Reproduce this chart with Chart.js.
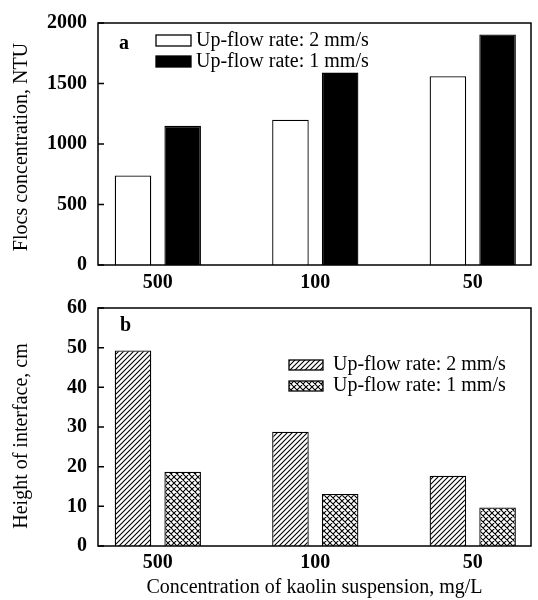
<!DOCTYPE html>
<html>
<head>
<meta charset="utf-8">
<script src="https://cdn.jsdelivr.net/npm/chart.js@4.4.1/dist/chart.umd.min.js"></script>
<style>
    html, body { margin: 0; padding: 0; background: #fff; }
    #wrap { position: relative; width: 538px; height: 600px; overflow: hidden; }
    canvas { position: absolute; left: 0; }
    #chart-a { top: 0; }
    #chart-b { top: 285px; }
</style>
</head>
<body>
<div id="wrap">
    <canvas id="chart-a" width="538" height="300"></canvas>
    <canvas id="chart-b" width="538" height="315"></canvas>
</div>
<script>
// kaolin concentration, mg/L
const categories = ['500', '100', '50'];
const seriesLabels = ['Up-flow rate: 2 mm/s', 'Up-flow rate: 1 mm/s'];

// panel a: flocs concentration, NTU
const flocsFast = [740, 1200, 1560];
const flocsSlow = [1150, 1590, 1905];
const flocsTicks = [0, 500, 1000, 1500, 2000];

// panel b: height of interface, cm
const heightFast = [49.3, 28.8, 17.7];
const heightSlow = [18.7, 13.1, 9.7];
const heightTicks = [0, 10, 20, 30, 40, 50, 60];

const SERIF = '"Liberation Serif", "Times New Roman", serif';
Chart.defaults.font.family = SERIF;
Chart.defaults.color = '#000';

function hatch(cross, size) {
    const c = document.createElement('canvas');
    c.width = size;
    c.height = size;
    const g = c.getContext('2d');
    g.fillStyle = '#fff';
    g.fillRect(0, 0, size, size);
    g.strokeStyle = '#000';
    g.lineWidth = 1.1;
    g.beginPath();
    g.moveTo(-1, size + 1); g.lineTo(size + 1, -1);
    g.moveTo(-1, 1); g.lineTo(1, -1);
    g.moveTo(size - 1, size + 1); g.lineTo(size + 1, size - 1);
    if (cross) {
        g.moveTo(-1, -1); g.lineTo(size + 1, size + 1);
        g.moveTo(size - 1, -1); g.lineTo(size + 1, 1);
        g.moveTo(-1, size - 1); g.lineTo(1, size + 1);
    }
    g.stroke();
    return g.createPattern(c, 'repeat');
}

const points = vals => vals.map((v, i) => ({ x: i + 1, y: v }));

const frame = {
    id: 'frame',
    afterDatasetsDraw(chart) {
        const { ctx, chartArea: a } = chart;
        const y = chart.scales.y;
        ctx.save();
        ctx.strokeStyle = '#000';
        ctx.lineWidth = 1.5;
        ctx.strokeRect(a.left, a.top, a.right - a.left, a.bottom - a.top);
        ctx.beginPath();
        y.ticks.forEach((t, i) => {
            const py = y.getPixelForTick(i);
            ctx.moveTo(a.left, py);
            ctx.lineTo(a.left + 6, py);
        });
        ctx.stroke();
        ctx.restore();
    }
};

const panelLegend = {
    id: 'panelLegend',
    afterDraw(chart, args, o) {
        const { ctx, chartArea: a } = chart;
        ctx.save();
        ctx.font = '20px ' + SERIF;
        ctx.textBaseline = 'middle';
        ctx.textAlign = 'left';
        chart.data.datasets.forEach((ds, i) => {
            const bx = a.left + o.left;
            const cy = a.top + o.top + i * o.rowGap;
            ctx.fillStyle = ds.backgroundColor;
            ctx.fillRect(bx, cy - o.boxH / 2, o.boxW, o.boxH);
            ctx.strokeStyle = '#000';
            ctx.lineWidth = 1.3;
            ctx.strokeRect(bx, cy - o.boxH / 2, o.boxW, o.boxH);
            ctx.fillStyle = '#000';
            ctx.fillText(ds.label, bx + o.boxW + o.gap, cy);
        });
        ctx.font = 'bold 20px ' + SERIF;
        ctx.textBaseline = 'alphabetic';
        ctx.fillText(o.tag, a.left + o.tagX, a.top + o.tagY);

        // y axis title, drawn by hand to keep its offset
        ctx.font = '20px ' + SERIF;
        ctx.textAlign = 'center';
        ctx.textBaseline = 'middle';
        ctx.translate(o.titleX, o.titleY);
        ctx.rotate(-Math.PI / 2);
        ctx.fillText(o.title, 0, 0);
        ctx.restore();
    }
};

function makeChart(id, series, colors, yTicks, opts) {
    return new Chart(document.getElementById(id), {
        type: 'bar',
        data: {
            datasets: series.map((vals, i) => ({
                label: seriesLabels[i],
                data: points(vals),
                backgroundColor: colors[i],
                borderColor: '#000',
                borderWidth: 1.3,
                categoryPercentage: 0.631,
                barPercentage: 0.736
            }))
        },
        options: {
            responsive: false,
            animation: false,
            layout: { padding: { top: opts.padTop, right: 7, left: 0, bottom: 0 } },
            plugins: {
                legend: { display: false },
                tooltip: { enabled: false },
                panelLegend: opts.legend
            },
            scales: {
                x: {
                    type: 'linear',
                    offset: false,
                    bounds: 'data',
                    min: 0.62,
                    max: 3.37,
                    afterBuildTicks: s => { s.ticks = categories.map((c, i) => ({ value: i + 1 })); },
                    afterFit: s => { s.height = opts.xHeight; },
                    grid: { display: false, drawTicks: false, offset: false },
                    border: { display: false },
                    ticks: {
                        font: { size: 20, weight: 'bold' },
                        padding: opts.xPad,
                        maxRotation: 0,
                        callback: v => categories[v - 1]
                    },
                    title: opts.xTitle
                        ? { display: true, text: opts.xTitle, font: { size: 20 }, padding: 0 }
                        : { display: false }
                },
                y: {
                    min: yTicks[0],
                    max: yTicks[yTicks.length - 1],
                    afterBuildTicks: s => { s.ticks = yTicks.map(v => ({ value: v })); },
                    afterFit: s => { s.width = 98; },
                    grid: { display: false, drawTicks: false },
                    border: { display: false },
                    ticks: {
                        font: { size: 20, weight: 'bold' },
                        padding: 11,
                        callback: v => String(v)
                    }
                }
            }
        },
        plugins: [frame, panelLegend]
    });
}

makeChart('chart-a', [flocsFast, flocsSlow], ['#fff', '#000'], flocsTicks, {
    padTop: 18,
    xHeight: 35,
    xPad: 5.5,
    legend: {
        left: 58, top: 17.5, rowGap: 21, boxW: 35, boxH: 11, gap: 5,
        tag: 'a', tagX: 21, tagY: 26,
        title: 'Flocs concentration, NTU', titleX: 22, titleY: 147
    }
});

makeChart('chart-b', [heightFast, heightSlow], [hatch(false, 5), hatch(true, 6)], heightTicks, {
    padTop: 15,
    xHeight: 54,
    xPad: 5,
    xTitle: 'Concentration of kaolin suspension, mg/L',
    legend: {
        left: 191, top: 57, rowGap: 21, boxW: 34, boxH: 10, gap: 10,
        tag: 'b', tagX: 22, tagY: 23,
        title: 'Height of interface, cm', titleX: 22, titleY: 151
    }
});
</script>
</body>
</html>
